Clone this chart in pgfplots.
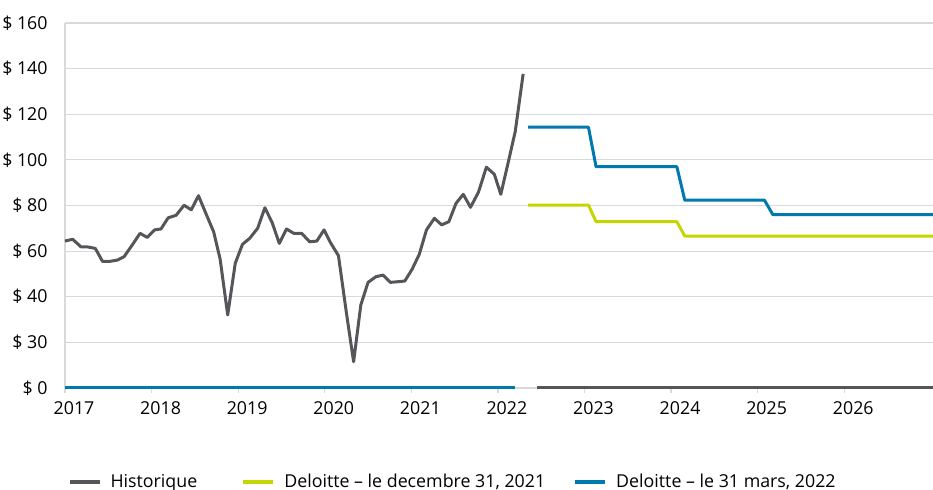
\documentclass[border=0pt]{standalone}
\usepackage{fontspec}
\setmainfont{Open Sans}
\usepackage{pgfplots}
\pgfplotsset{compat=1.18}
\definecolor{histgray}{RGB}{85,86,90}
\definecolor{dgreen}{RGB}{196,214,0}
\definecolor{dblue}{RGB}{0,121,175}
\definecolor{gridc}{RGB}{217,217,217}
\begin{document}
\fontsize{8.9}{10.5}\selectfont
\begin{tikzpicture}
\begin{axis}[
  name=ax,
  scale only axis,
  width=434pt, height=182.5pt,
  xmin=0, xmax=120.3, ymin=0, ymax=160,
  clip=false,
  axis x line=bottom, axis y line=left,
  axis line style={-, draw=gridc, line width=0.6pt},
  ymajorgrids, grid style={draw=gridc, line width=0.6pt},
  ytick={0,20,40,60,80,100,120,140,160},
  yticklabels={\$ 0,\$ 30,\$ 40,\$ 60,\$ 80,\$ 100,\$ 120,\$ 140,\$ 160},
  xtick={0,12,24,36,48,60,72,84,96,108},
  xticklabels={2017,2018,2019,2020,2021,2022,2023,2024,2025,2026},
  /pgf/number format/assume math mode=true,
  tick align=outside,
  major tick length=2.5pt,
  xtick style={draw=gridc, line width=0.6pt},
  ytick style={draw=none},
  yticklabel style={inner sep=0pt, xshift=-6pt},
  xticklabel style={inner sep=0pt, xshift=4.5pt, yshift=-4pt},
  legend columns=3,
  legend style={draw=none, fill=none, inner sep=0pt,
    at={(axis description cs:0.0025,-0.2575)}, anchor=west,
    /tikz/every odd column/.append style={column sep=2.5pt},
    /tikz/every even column/.append style={column sep=12pt},
    font=\fontsize{8.9}{10.5}\selectfont},
  legend image code/.code={\draw[#1,line width=2pt] (0pt,0pt) -- (15pt,0pt);},
  every axis plot/.append style={line width=1.5pt, line join=round},
]
% Historique
\addplot[histgray] coordinates {
(0,64.4)(1.06,65.2)(2.2,61.9)(3.2,61.8)(4.2,61.2)(5.2,55.5)(6.2,55.5)(7.3,56.1)
(8.2,57.6)(9.3,62.6)(10.4,67.8)(11.4,66.0)(12.4,69.3)(13.3,69.7)(14.3,74.6)(15.4,75.7)
(16.5,80.1)(17.5,78.1)(18.5,84.3)(19.5,76.7)(20.6,68.5)(21.5,56.5)(22.55,32.0)(23.6,54.7)
(24.6,63.0)(25.6,65.6)(26.7,70.0)(27.7,79.0)(28.7,72.6)(29.7,63.4)(30.7,69.7)(31.7,67.8)
(32.8,67.8)(33.9,64.1)(34.9,64.4)(35.9,69.3)(36.8,63.7)(37.9,58.0)(39.0,33.0)(40.0,11.5)
(41.0,36.4)(42.0,46.3)(43.1,48.8)(44.1,49.5)(45.1,46.3)(46.2,46.6)(47.1,46.9)(48.1,52.0)
(49.1,58.6)(50.1,69.3)(51.2,74.4)(52.2,71.5)(53.2,72.9)(54.2,81.0)(55.2,84.9)(56.2,79.2)
(57.3,85.8)(58.4,96.8)(59.5,93.7)(60.4,84.9)(61.4,98.5)(62.4,112.4)(63.5,137.7)
};
\addlegendentry{Historique\rule{8pt}{0pt}}
% Deloitte Dec 2021
\addplot[dgreen] coordinates {
(64.2,80.2)(72.55,80.2)(73.6,72.9)(84.8,72.9)(85.9,66.6)(120.3,66.6)
};
\addlegendentry{Deloitte – le decembre 31, 2021}
% Deloitte Mar 2022
\addplot[dblue] coordinates {
(64.2,114.3)(72.55,114.3)(73.6,97.0)(84.8,97.0)(85.9,82.3)(96.95,82.3)(98.1,76.0)(120.3,76.0)
};
\addlegendentry{Deloitte – le 31 mars, 2022}
% zero parts
\addplot[dgreen, forget plot] coordinates {(0,0)(62.4,0)};
\addplot[dblue, forget plot] coordinates {(0,0)(62.4,0)};
\addplot[histgray, forget plot] coordinates {(65.4,0)(120.3,0)};
\end{axis}
\pgfresetboundingbox
\path[use as bounding box] ([xshift=-32.5pt,yshift=-51pt]ax.south west) rectangle ([yshift=11.5pt]ax.north east);
\end{tikzpicture}
\end{document}
